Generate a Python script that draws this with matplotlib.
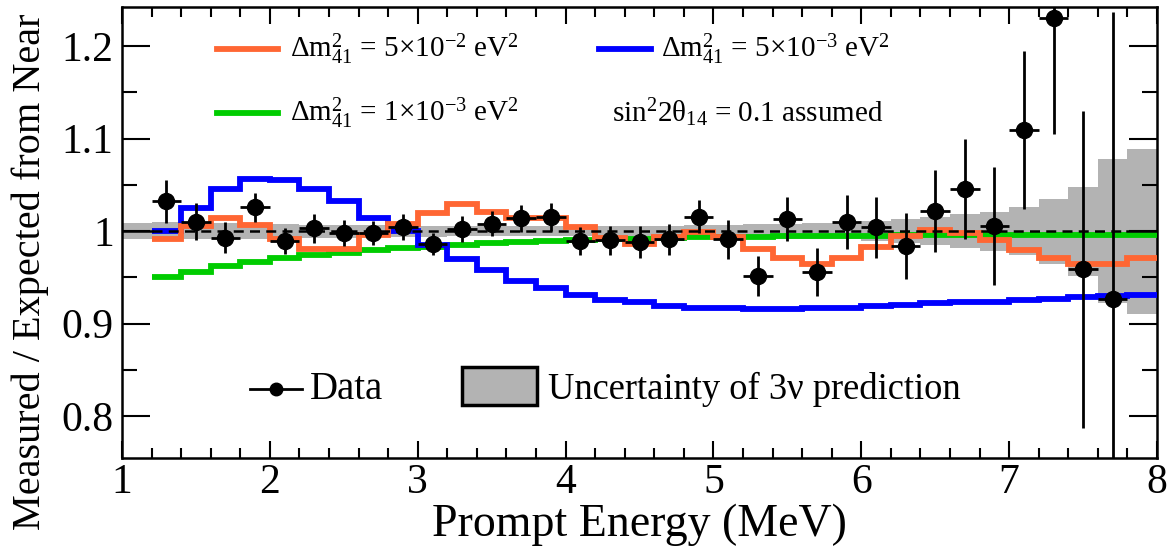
import numpy as np
import matplotlib
matplotlib.use("Agg")
import matplotlib.pyplot as plt
from matplotlib.ticker import MultipleLocator, FormatStrFormatter
from matplotlib.patches import Rectangle
from matplotlib.lines import Line2D

plt.rcParams['font.family'] = ['Liberation Serif', 'DejaVu Serif']
plt.rcParams['mathtext.fontset'] = 'custom'
plt.rcParams['mathtext.rm'] = 'Liberation Serif'
plt.rcParams['mathtext.it'] = 'Liberation Serif:italic'
plt.rcParams['mathtext.default'] = 'regular'

# ---------------- data ----------------
data_x = [1.3, 1.5, 1.7, 1.9, 2.1, 2.3, 2.5, 2.7, 2.9, 3.1,
          3.3, 3.5, 3.7, 3.9, 4.1, 4.3, 4.5, 4.7, 4.9, 5.1,
          5.3, 5.5, 5.7, 5.9, 6.1, 6.3, 6.5, 6.7, 6.9, 7.1,
          7.3, 7.5, 7.7]
data_y = [1.032, 1.010, 0.993, 1.0256, 0.9895, 1.003, 0.998, 0.998, 1.004, 0.986,
          1.002, 1.008, 1.0137, 1.0155, 0.989, 0.990, 0.988, 0.991, 1.0155, 0.991,
          0.952, 1.013, 0.956, 1.010, 1.004, 0.984, 1.0216, 1.046, 1.0057, 1.109,
          1.230, 0.9586, 0.927]
data_err = [0.023, 0.020, 0.017, 0.016, 0.014, 0.016, 0.0145, 0.013, 0.014, 0.012,
            0.014, 0.0135, 0.0145, 0.015, 0.015, 0.016, 0.017, 0.017, 0.018, 0.0207,
            0.0216, 0.024, 0.0256, 0.029, 0.0326, 0.036, 0.044, 0.054, 0.064, 0.085,
            0.125, 0.171, 0.31]
data_xerr = 0.1

# model histograms, bins 1.2 .. 8.0 (0.2 MeV)
model_edges = np.round(np.arange(1.2, 8.0001, 0.2), 2)
orange_vals = [0.991, 1.0055, 1.0144, 1.0065, 0.992, 0.981, 0.981, 0.9957, 1.0076, 1.020,
               1.029, 1.021, 1.0144, 1.0144, 1.0047, 0.993, 0.986, 0.994, 0.999, 0.994,
               0.981, 0.9705, 0.965, 0.971, 0.983, 0.995, 1.001, 0.9975, 0.990, 0.9795,
               0.9705, 0.964, 0.964, 0.9705]
blue_vals = [1.000, 1.025, 1.046, 1.056, 1.055, 1.045, 1.032, 1.014, 1.000, 0.985,
             0.970, 0.958, 0.946, 0.939, 0.931, 0.926, 0.923, 0.919, 0.9175, 0.917,
             0.916, 0.916, 0.9165, 0.9175, 0.919, 0.9205, 0.922, 0.9235, 0.924, 0.9255,
             0.927, 0.929, 0.930, 0.9315]
green_vals = [0.951, 0.956, 0.962, 0.967, 0.9705, 0.974, 0.976, 0.9795, 0.982, 0.983,
              0.985, 0.9867, 0.988, 0.989, 0.990, 0.991, 0.992, 0.993, 0.9935, 0.994,
              0.994, 0.9945, 0.9945, 0.995, 0.995, 0.9955, 0.9955, 0.996, 0.996, 0.996,
              0.996, 0.996, 0.996, 0.996]

# 3nu prediction uncertainty band, bins 1.0 .. 8.0
band_edges = np.round(np.arange(1.0, 8.0001, 0.2), 2)
band_half = [0.009, 0.0095, 0.009, 0.0085, 0.008, 0.0075, 0.007, 0.007, 0.0065, 0.0065,
             0.006, 0.0055, 0.0055, 0.0055, 0.0055, 0.0055, 0.0055, 0.006, 0.006, 0.0065,
             0.007, 0.0075, 0.008, 0.0085, 0.009, 0.011, 0.0126, 0.0155, 0.018, 0.021,
             0.026, 0.035, 0.048, 0.0775, 0.089]
pred_level = 1.0

# ---------------- figure ----------------
fig = plt.figure(figsize=(11.73, 5.48), dpi=100)
ax = fig.add_axes([0.104, 0.1642, 0.8824, 0.8230])

C_OR = '#ff6633'
C_BL = '#0000ff'
C_GR = '#00cc00'
C_BAND = '#b3b3b3'

hw = np.array(band_half)
ax.stairs(pred_level + hw, band_edges, baseline=pred_level - hw, fill=True,
          color=C_BAND, lw=0, zorder=1)

ax.stairs(green_vals, model_edges, baseline=None, color=C_GR, lw=4.2, zorder=3)
ax.stairs(blue_vals, model_edges, baseline=None, color=C_BL, lw=4.2, zorder=3)
ax.stairs(orange_vals, model_edges, baseline=None, color=C_OR, lw=4.2, zorder=4)

# reference line
ax.plot([band_edges[0], model_edges[0]], [pred_level] * 2, color='k', lw=1.8, zorder=5)
ax.plot([model_edges[-2], model_edges[-1]], [pred_level] * 2, color='k', lw=1.8, zorder=5)
ax.plot([model_edges[0], model_edges[-2]], [pred_level] * 2, color='k', lw=1.8,
        ls=(0, (4, 2.5)), zorder=5)

ax.errorbar(data_x, data_y, xerr=data_xerr, yerr=data_err, fmt='o', color='k',
            ms=11.5, elinewidth=2.0, capsize=0, zorder=6)

ax.set_xlim(1, 8)
ax.set_ylim(0.755, 1.242)
ax.xaxis.set_major_locator(MultipleLocator(1))
ax.xaxis.set_minor_locator(MultipleLocator(0.2))
ax.yaxis.set_major_locator(MultipleLocator(0.1))
ax.yaxis.set_minor_locator(MultipleLocator(0.05))
ax.yaxis.set_major_formatter(FormatStrFormatter('%g'))
ax.xaxis.set_major_formatter(FormatStrFormatter('%g'))
ax.tick_params(which='both', direction='in', top=True, right=True, width=1.5,
               labelsize=30, colors='k')
ax.tick_params(axis='x', which='major', length=12, pad=4)
ax.tick_params(axis='x', which='minor', length=7)
ax.tick_params(axis='y', which='major', length=20, pad=6)
ax.tick_params(axis='y', which='minor', length=11)
for s in ax.spines.values():
    s.set_linewidth(1.8)

ax.set_xlabel('Prompt Energy (MeV)', fontsize=33, labelpad=0)
ax.xaxis.label.set_va('baseline')
ax.xaxis.set_label_coords(0.5, -0.174)
fig.text(0.026, 0.505, 'Measured / Expected from Near', rotation=90,
         fontsize=29, ha='center', va='center')

# ---------------- legends ----------------
T = ax.transAxes
ax.add_line(Line2D([0.092, 0.151], [0.907, 0.907], transform=T, color=C_OR, lw=4.2))
ax.text(0.162, 0.907, r'$\Delta m^{2}_{41}$ = 5$\times$10$^{-2}$ eV$^{2}$', transform=T,
        fontsize=21, va='center', ha='left')
ax.add_line(Line2D([0.461, 0.511], [0.907, 0.907], transform=T, color=C_BL, lw=4.2))
ax.text(0.521, 0.907, r'$\Delta m^{2}_{41}$ = 5$\times$10$^{-3}$ eV$^{2}$', transform=T,
        fontsize=21, va='center', ha='left')
ax.add_line(Line2D([0.092, 0.151], [0.765, 0.765], transform=T, color=C_GR, lw=4.2))
ax.text(0.162, 0.765, r'$\Delta m^{2}_{41}$ = 1$\times$10$^{-3}$ eV$^{2}$', transform=T,
        fontsize=21, va='center', ha='left')
ax.text(0.473, 0.765, r'sin$^{2}$2$\theta_{14}$ = 0.1 assumed', transform=T,
        fontsize=21, va='center', ha='left')

ax.add_line(Line2D([0.124, 0.174], [0.152, 0.152], transform=T, color='k', lw=2.0))
ax.add_line(Line2D([0.149], [0.152], transform=T, color='k', marker='o', ms=9, ls='none'))
ax.text(0.182, 0.152, 'Data', transform=T, fontsize=28, va='center', ha='left')
ax.add_patch(Rectangle((0.3285, 0.118), 0.0725, 0.084, transform=T,
                       facecolor=C_BAND, edgecolor='k', lw=2.5))
ax.text(0.4116, 0.152, 'Uncertainty of 3ν prediction', transform=T, fontsize=26.3,
        va='center', ha='left')

fig.savefig('out.png', dpi=100)
